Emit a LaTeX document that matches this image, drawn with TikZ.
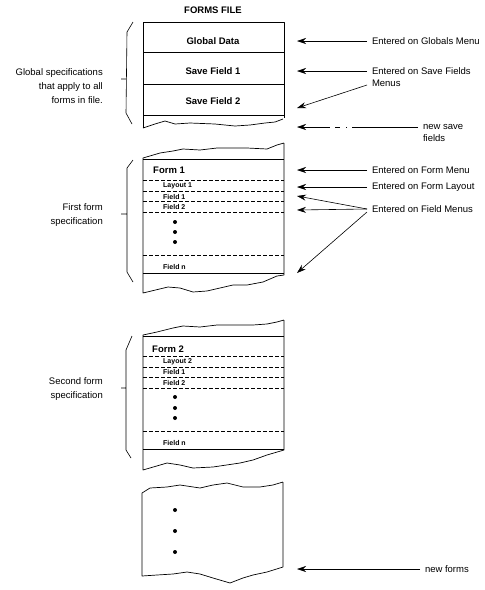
\documentclass[tikz,border=0pt]{standalone}
\usepackage{fontspec}
\setmainfont{Liberation Sans}
\usetikzlibrary{arrows.meta}

\tikzset{
  edge/.style={line width=0.7pt, line join=round},
  rule/.style={line width=0.6pt, dash pattern=on 3.5pt off 2.5pt},
  brace/.style={line width=0.6pt, line join=round},
  entry/.style={font=\fontsize{9.5}{11}\selectfont\bfseries, inner sep=0pt},
  item/.style={font=\fontsize{7}{8}\selectfont\bfseries, inner sep=0pt, anchor=west},
  note/.style={font=\fontsize{9.5}{12.5}\selectfont, inner sep=0pt, outer sep=5pt, anchor=west, align=left},
  spec/.style={font=\fontsize{9.5}{14}\selectfont, inner sep=0pt, anchor=east, align=right},
  ptr/.style={line width=0.6pt, -{Stealth[length=9pt, width=6pt, inset=3pt]}}
}

\begin{document}
\begin{tikzpicture}[x=1pt, y=-1pt]
\useasboundingbox (0,0) rectangle (485,590);

% Title
\node[entry] (title) at (213,10) {FORMS FILE};

% Global block
\draw[edge] (143,128) -- (143,22) -- (284,22) -- (284,118);
\draw[edge] (143,52) -- (284,52) (143,84) -- (284,84) (143,115) -- (284,115);
\draw[edge] (143,128) -- (155,124) -- (165,121) -- (175,124) -- (190,123) -- (215,124) -- (235,126) -- (250,125) -- (265,123) -- (275,122) -- (283,119);
\node[entry] (global) at (213,41) {Global Data};
\node[entry] (save1) at (213,71) {Save Field 1};
\node[entry] (save2) at (213,101) {Save Field 2};

% Form 1 block
\draw[edge] (284,143) -- (284,275) -- (277,276) -- (263,282) -- (247,285) -- (233,285) -- (207,291) -- (193,292) -- (180,288) -- (168,287) -- (143,293) -- (143,158) -- (160,153) -- (173,151) -- (183,149) -- (200,150) -- (217,148) -- (233,148) -- (247,148) -- (267,149) -- (277,145) -- (284,143);
\draw[edge] (143,159) -- (284,159) (143,273) -- (284,273);
\foreach \y in {180,191,201,212,255}
  \draw[rule] (143,\y) -- (284,\y);
\node[entry, anchor=west] (form1) at (153,170) {Form 1};
\node[item] (layout1) at (163,186) {Layout 1};
\node[item] (field11) at (163,197) {Field 1};
\node[item] (field12) at (163,207) {Field 2};
\node[item] (field1n) at (163,267) {Field n};
\foreach \y in {222,232,242}
  \fill (175,\y) circle (2pt);

% Form 2 block
\draw[edge] (284,320) -- (284,450) -- (267,455) -- (253,460) -- (240,463) -- (213,467) -- (193,468) -- (180,465) -- (167,463) -- (143,470) -- (143,335) -- (157,332) -- (173,328) -- (183,326) -- (200,327) -- (217,325) -- (253,325) -- (267,324) -- (277,322) -- (284,320);
\draw[edge] (143,336) -- (284,336) (143,449) -- (284,449);
\foreach \y in {356,367,377,388,431}
  \draw[rule] (143,\y) -- (284,\y);
\node[entry, anchor=west] (form2) at (152,349) {Form 2};
\node[item] (layout2) at (163,362) {Layout 2};
\node[item] (field21) at (163,372) {Field 1};
\node[item] (field22) at (163,383) {Field 2};
\node[item] (field2n) at (163,443) {Field n};
\foreach \y in {397,408,418}
  \fill (175,\y) circle (2pt);

% New forms block
\draw[edge] (283,482) -- (283,567) -- (267,572) -- (253,575) -- (243,578) -- (230,583) -- (213,578) -- (200,574) -- (187,572) -- (173,574) -- (157,575) -- (142,576) -- (142,493) -- (150,488) -- (167,487) -- (180,485) -- (200,488) -- (213,485) -- (227,483) -- (243,487) -- (260,487) -- (273,485) -- (283,482);
\foreach \y in {510,531,552}
  \fill (175,\y) circle (2pt);

% Braces
\draw[brace] (133,22) -- (127,32) -- (126,113) -- (132,124) (126,79) -- (121,79);
\draw[brace] (133,160) -- (127,168) -- (127,272) -- (133,282) (127,214) -- (121,214);
\draw[brace] (132,336) -- (126,350) -- (126,450) -- (131,458) (126,388) -- (121,388);
\node[spec] (globspec) at (103,86) {Global specifications\\that apply to all\\forms in file.};
\node[spec] (firstspec) at (103,215) {First form\\specification};
\node[spec] (secondspec) at (103,389) {Second form\\specification};

% Notes
\node[note] (globmenu) at (367,41) {Entered on Globals Menu};
\node[note] (savemenu) at (367,77) {Entered on Save Fields\\Menus};
\node[note] (newsave) at (418,133) {new save\\fields};
\node[note] (formmenu) at (367,170) {Entered on Form Menu};
\node[note] (formlayout) at (367,187) {Entered on Form Layout};
\node[note] (fieldmenu) at (367,209) {Entered on Field Menus};
\node[note] (newforms) at (420,569) {new forms};

% Arrow ends
\coordinate (globIn) at (297,41);
\coordinate (save1In) at (297,71);
\coordinate (save2In) at (297,108);
\coordinate (newsaveIn) at (297,127);
\coordinate (form1In) at (297,170);
\coordinate (layoutIn) at (297,187);
\coordinate (field1In) at (297,196);
\coordinate (field2In) at (297,210);
\coordinate (fieldnIn) at (297,273);
\coordinate (newformsIn) at (297,569);

% Arrows
\draw[ptr] (globmenu.west) -- (globIn);
\draw[ptr] ([yshift=6pt]savemenu.west) -- (save1In);
\draw[ptr] ([yshift=-8pt]savemenu.west) -- (save2In);
\draw[ptr, dash pattern=on 66pt off 5pt on 1.5pt off 6pt on 5pt off 5pt on 40pt] ([yshift=6pt]newsave.west) -- (newsaveIn);
\draw[ptr] (formmenu.west) -- (form1In);
\draw[ptr] (formlayout.west) -- (layoutIn);
\draw[ptr] (fieldmenu.west) -- (field1In);
\draw[ptr] (fieldmenu.west) -- (field2In);
\draw[ptr] ([yshift=-3pt]fieldmenu.west) -- (fieldnIn);
\draw[ptr] (newforms.west) -- (newformsIn);
\end{tikzpicture}
\end{document}
